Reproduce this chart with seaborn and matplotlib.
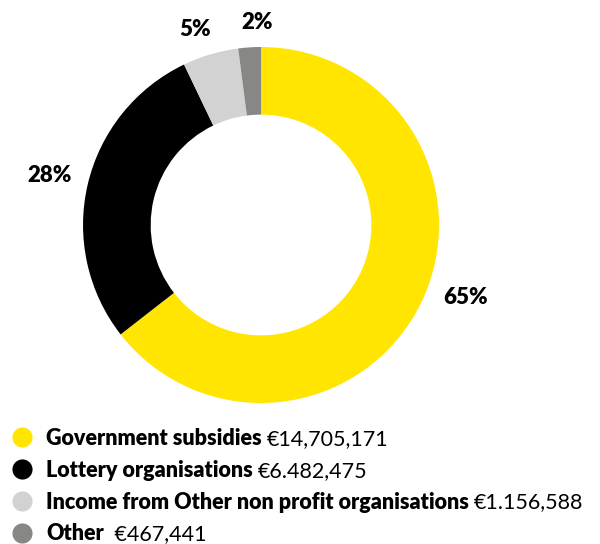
import numpy as np
import seaborn as sns
import matplotlib
matplotlib.use("Agg")
from matplotlib import pyplot as plt
from matplotlib.lines import Line2D
from matplotlib.transforms import IdentityTransform

## Les données
categories = ["Government subsidies", "Lottery organisations",
              "Income from Other non profit organisations", "Other"]
montants = [14705171, 6482475, 1156588, 467441]
montants_txt = ["€14,705,171", "€6.482,475", "€1.156,588", " €467,441"]
pourcentages = ["65%", "28%", "5%", "2%"]
couleurs = ["#FFE500", "#000000", "#D1D2D1", "#878786"]

sns.set_theme(style="white")
plt.rcParams["font.family"] = ["Lato", "DejaVu Sans"]
plt.rcParams["text.color"] = "black"

fig = plt.figure(figsize=(6, 5.44), dpi=100)
ax = fig.add_axes([0.0642, 0.1774, 0.7417, 0.818])

wedges, _ = ax.pie(montants, colors=couleurs, startangle=90, counterclock=False,
                   wedgeprops=dict(width=0.38, linewidth=0))
ax.set_xlim(-1.25, 1.25)
ax.set_ylim(-1.25, 1.25)
ax.set_aspect("equal")

# étiquettes des pourcentages autour de l'anneau
distances = [1.22, 1.22, 1.16, 1.14]
decalage = [6.5, 0, 2, -2.5]
for w, txt, r, d in zip(wedges, pourcentages, distances, decalage):
    ang = np.deg2rad((w.theta1 + w.theta2) / 2 + d)
    ax.text(r * np.cos(ang), r * np.sin(ang), txt, ha="center", va="center",
            fontsize=16, fontweight="heavy", color="black", clip_on=False)

# légende : noms en gras puis montants
handles = [Line2D([], [], marker="o", linestyle="", markersize=14.5,
                  markerfacecolor=c, markeredgewidth=0) for c in couleurs]
leg = fig.legend(handles, categories, loc="upper left", bbox_to_anchor=(0.0, 0.233),
                 frameon=False, borderpad=0, handlelength=1.0, handletextpad=0.65,
                 labelspacing=0.5, prop=dict(family="Lato", weight="heavy", size=15.5))
for t in leg.get_texts():
    t.set_color("black")

fig.canvas.draw()
rend = fig.canvas.get_renderer()
for t, val in zip(leg.get_texts(), montants_txt):
    bb = t.get_window_extent(rend)
    fig.text(bb.x1 + 5, bb.y0, val, transform=IdentityTransform(), ha="left", va="bottom",
             fontsize=15.5, family="Lato", color="black")

plt.savefig("out.png", dpi=100)
